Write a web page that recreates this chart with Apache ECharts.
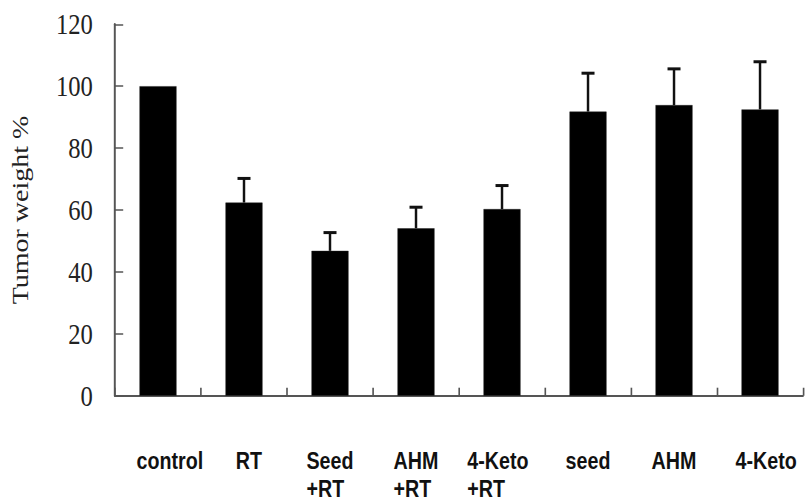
<!DOCTYPE html>
<html>
<head>
<meta charset="utf-8">
<script src="https://cdn.jsdelivr.net/npm/echarts@6/dist/echarts.min.js"></script>
<style>
  html, body { margin: 0; padding: 0; background: #fff; overflow: hidden; width: 805px; height: 504px; }
  /* The figure uses narrow lettering throughout, so the chart is laid out wider and condensed horizontally */
  #chart { position: absolute; left: 0; top: 0; width: 982px; height: 504px;
           transform: scaleX(0.82); transform-origin: 0 0; }
</style>
</head>
<body>
<div id="chart"></div>
<script>
// Treatment groups (second line of a label goes under the first)
const categories = ['control', 'RT', 'Seed\n+RT', 'AHM\n+RT', '4-Keto\n+RT', 'seed', 'AHM', '4-Keto'];
// Mean tumor weight, % of control
const tumorWeight = [100, 62.4, 46.8, 54.1, 60.3, 91.8, 93.9, 92.5];
// Upper error (SD) above each mean
const errorUp = [0, 7.8, 5.9, 6.8, 7.6, 12.4, 11.7, 15.4];
// Y axis ticks
const yTicks = [0, 20, 40, 60, 80, 100, 120];

const SX = 0.82; // horizontal condensing applied to the chart box

// Hand-placed category captions sit a little off the bar centres (screen px, + = right)
const captionNudge = [12, 5, 0, 0, -4, 0, 0, 6];

const chart = echarts.init(document.getElementById('chart'), null, { renderer: 'svg' });

const axisColor = '#555';
const labelFont = '"Liberation Sans", Arial, sans-serif';
const serifFont = '"Liberation Serif", "Times New Roman", serif';

const categoryItems = categories.map((c, i) => {
  const p = Math.round(Math.abs(captionNudge[i]) * 2 / SX);
  const pad = captionNudge[i] > 0 ? [0, 0, 0, p] : captionNudge[i] < 0 ? [0, p, 0, 0] : [0, 0, 0, 0];
  return { value: c, textStyle: { padding: pad } };
});

chart.setOption({
  animation: false,
  backgroundColor: '#fff',
  grid: { left: 115 / SX, right: 2.7, top: 24.3, bottom: 108.3, containLabel: false },
  xAxis: {
    type: 'category',
    data: categoryItems,
    boundaryGap: true,
    axisLine: { show: true, lineStyle: { color: axisColor, width: 2 } },
    axisTick: { show: true, inside: true, length: 8, lineStyle: { color: axisColor, width: 2 } },
    axisLabel: {
      interval: 0,
      margin: 55,
      formatter: v => v.split('\n').map(s => '{l|' + s + '}').join('\n{s| }\n'),
      rich: {
        l: {
          align: 'left',
          fontFamily: labelFont,
          fontWeight: 'bold',
          fontSize: 24,
          lineHeight: 20,
          color: '#111'
        },
        s: { fontSize: 6, lineHeight: 8 }
      }
    },
    splitLine: { show: false }
  },
  yAxis: {
    type: 'value',
    min: yTicks[0],
    max: yTicks[yTicks.length - 1],
    interval: yTicks[1] - yTicks[0],
    name: 'Tumor weight %',
    nameLocation: 'middle',
    nameRotate: 90,
    nameGap: 102,
    nameTextStyle: { fontFamily: serifFont, fontSize: 28, color: '#222' },
    axisLine: { show: true, lineStyle: { color: axisColor, width: 2.4 } },
    axisTick: { show: true, inside: true, length: 10, lineStyle: { color: axisColor, width: 1.5 } },
    axisLabel: {
      margin: 27,
      fontFamily: serifFont,
      fontSize: 30,
      color: '#222',
      padding: [12, 0, 0, 0]
    },
    splitLine: { show: false }
  },
  series: [
    {
      type: 'bar',
      data: tumorWeight,
      barWidth: 37 / SX,
      itemStyle: { color: '#000', borderColor: '#222', borderWidth: 0.5 },
      z: 2
    },
    {
      type: 'custom',
      data: tumorWeight.map((v, i) => [i, v, v + errorUp[i], errorUp[i]]),
      z: 3,
      renderItem: (params, api) => {
        if (api.value(3) <= 0) return null;
        const base = api.coord([api.value(0), api.value(1)]);
        const top = api.coord([api.value(0), api.value(2)]);
        const cap = 13 / SX;
        return {
          type: 'group',
          children: [
            {
              type: 'line',
              shape: { x1: base[0], y1: base[1], x2: top[0], y2: top[1] },
              style: { stroke: '#111', lineWidth: 3 }
            },
            {
              type: 'line',
              shape: { x1: top[0] - cap / 2, y1: top[1], x2: top[0] + cap / 2, y2: top[1] },
              style: { stroke: '#111', lineWidth: 3 }
            }
          ]
        };
      }
    }
  ]
});
</script>
</body>
</html>
